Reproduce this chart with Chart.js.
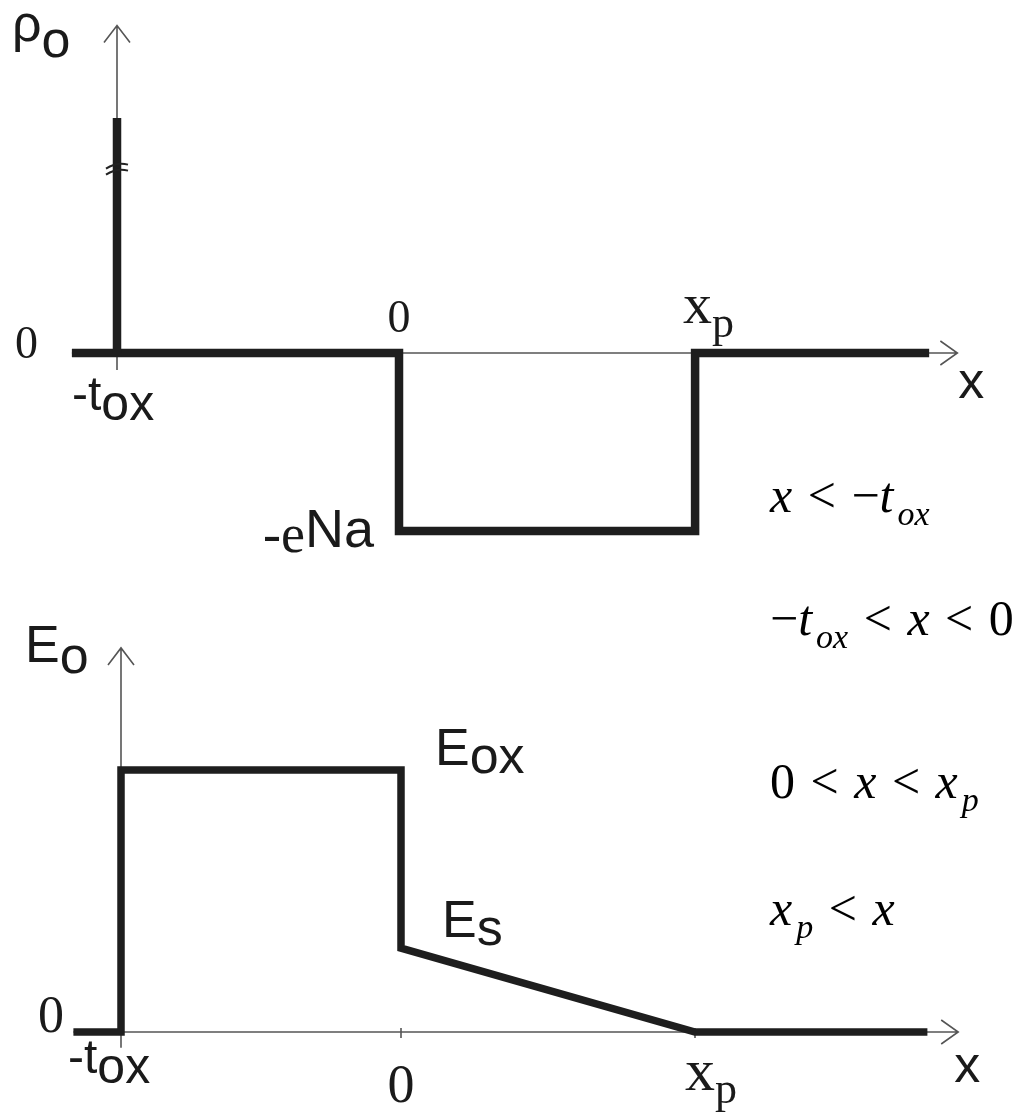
<!DOCTYPE html>
<html lang="en">
<head>
<meta charset="UTF-8">
<title>MOS: charge density and field</title>
<script src="https://cdn.jsdelivr.net/npm/chart.js"></script>
<style>
    body, html {
        margin: 0;
        padding: 0;
        background: #fff;
    }

    .page {
        position: relative;
        width: 1016px;
        height: 1114px;
        overflow: hidden;
    }

    canvas {
        position: absolute;
        left: 0;
    }

    #rhoChart { top: 0; }
    #fieldChart { top: 560px; }

    /* region conditions on the right */
    .cond {
        position: absolute;
        left: 770px;
        font-family: 'Liberation Serif', 'Times New Roman', serif;
        font-size: 50px;
        line-height: 1;
        white-space: nowrap;
        color: #000;
    }

    .cond .op {
        margin: 0 3px;
    }

    .cond sub {
        font-size: 34px;
        font-style: italic;
        vertical-align: baseline;
        position: relative;
        top: 13px;
        margin-left: 4px;
    }
</style>
</head>
<body>
<div class="page">
    <canvas id="rhoChart" width="1016" height="560"></canvas>
    <canvas id="fieldChart" width="1016" height="554"></canvas>

    <div class="cond" style="top:470px"><i>x</i> <span class="op">&lt;</span> &minus;<i>t</i><sub>ox</sub></div>
    <div class="cond" style="top:593px">&minus;<i>t</i><sub>ox</sub> <span class="op">&lt;</span> <i>x</i> <span class="op">&lt;</span> 0</div>
    <div class="cond" style="top:756px">0 <span class="op">&lt;</span> <i>x</i> <span class="op">&lt;</span> <i>x</i><sub>p</sub></div>
    <div class="cond" style="top:883px"><i>x</i><sub>p</sub> <span class="op">&lt;</span> <i>x</i></div>
</div>

<script>
    // normalised positions: -tox = -1, depletion edge at xp
    const tox = 1;
    const xp = 1.05;

    // charge density rho(x): zero in the oxide, -eNa across the depletion layer
    const rhoX = [-1.16, 0, 0, 1.05, 1.05, 1.88];
    const rhoY = [0, 0, -1, -1, 0, 0];

    // gate sheet charge at -tox, drawn as a broken spike
    const spikeX = [-1, -1];
    const spikeY = [0, 1.32];
    const spikeBreak = 1.03;

    // field E(x): constant Eox in the oxide, linear from Es down to 0 at xp
    const fieldX = [-1.17, -1, -1, 0, 0, 1.05, 1.88];
    const fieldY = [0, 0, 1, 1, 0.32, 0, 0];

    const SANS = "'Liberation Sans', Arial, sans-serif";
    const SERIF = "'Liberation Serif', 'Times New Roman', serif";

    function toPoints(xs, ys) {
        return xs.map((x, i) => ({ x: x, y: ys[i] }));
    }

    // value range that puts value 0 at pixel p0 with the given pixels per unit
    function range(p0, perUnit, size, flip) {
        if (flip) return [-(size - p0) / perUnit, p0 / perUnit];
        return [-p0 / perUnit, (size - p0) / perUnit];
    }

    function drawParts(ctx, parts, x, y, align) {
        let w = 0;
        parts.forEach(p => { ctx.font = p.f; w += ctx.measureText(p.t).width; });
        let cx = align === 'center' ? x - w / 2 : x;
        parts.forEach(p => {
            ctx.font = p.f;
            ctx.fillText(p.t, cx, y + (p.dy || 0));
            cx += ctx.measureText(p.t).width;
        });
    }

    // thin axes with open arrow heads, break marks, ticks and labels
    function overlay(cfg) {
        return {
            id: 'overlay',
            beforeDatasetsDraw(chart) {
                const { ctx, scales: { x, y } } = chart;
                const y0 = y.getPixelForValue(0);
                const xa = x.getPixelForValue(-tox);
                const xTip = x.getPixelForValue(cfg.xTip);
                const yTip = y.getPixelForValue(cfg.yTip);
                ctx.save();
                ctx.strokeStyle = '#555';
                ctx.lineWidth = 1.6;
                ctx.beginPath();
                ctx.moveTo(x.getPixelForValue(cfg.xFrom), y0);
                ctx.lineTo(xTip, y0);
                ctx.moveTo(xa, y.getPixelForValue(cfg.yFrom));
                ctx.lineTo(xa, yTip);
                // arrow heads
                ctx.moveTo(xTip - 17, y0 - 12);
                ctx.lineTo(xTip, y0);
                ctx.lineTo(xTip - 17, y0 + 12);
                ctx.moveTo(xa - 13, yTip + 17);
                ctx.lineTo(xa, yTip);
                ctx.lineTo(xa + 13, yTip + 17);
                (cfg.ticks || []).forEach(v => {
                    const px = x.getPixelForValue(v);
                    ctx.moveTo(px, y0 - 4);
                    ctx.lineTo(px, y0 + 6);
                });
                ctx.stroke();
                ctx.restore();
            },
            afterDraw(chart) {
                const { ctx, scales: { x, y } } = chart;
                ctx.save();
                if (cfg.breakAt !== undefined) {
                    const bx = x.getPixelForValue(spikeX[0]);
                    const by = y.getPixelForValue(cfg.breakAt);
                    ctx.strokeStyle = '#222';
                    ctx.lineWidth = 2;
                    ctx.beginPath();
                    [-3, 3].forEach(o => {
                        ctx.moveTo(bx - 11, by + o + 2);
                        ctx.quadraticCurveTo(bx, by + o - 5, bx + 11, by + o - 2);
                    });
                    ctx.stroke();
                }
                ctx.fillStyle = '#1a1a1a';
                ctx.textBaseline = 'alphabetic';
                cfg.labels.forEach(l => {
                    const px = x.getPixelForValue(l.at[0]) + l.dx;
                    const py = y.getPixelForValue(l.at[1]) + l.dy;
                    drawParts(ctx, l.parts, px, py, l.align);
                });
                ctx.restore();
            }
        };
    }

    function makeChart(id, datasets, xr, yr, cfg) {
        return new Chart(document.getElementById(id), {
            type: 'scatter',
            data: { datasets: datasets },
            options: {
                responsive: false,
                animation: false,
                events: [],
                layout: { padding: 0 },
                scales: {
                    x: { type: 'linear', min: xr[0], max: xr[1], display: false },
                    y: { type: 'linear', min: yr[0], max: yr[1], display: false }
                },
                plugins: { legend: { display: false }, tooltip: { enabled: false } }
            },
            plugins: [overlay(cfg)]
        });
    }

    function profile(xs, ys, width) {
        return {
            data: toPoints(xs, ys),
            showLine: true,
            borderColor: '#1e1e1e',
            borderWidth: width,
            borderJoinStyle: 'miter',
            borderCapStyle: 'butt',
            pointRadius: 0,
            tension: 0,
            clip: false
        };
    }

    // charge density
    makeChart('rhoChart',
        [profile(spikeX, spikeY, 8.5), profile(rhoX, rhoY, 8.5)],
        range(399, 282, 1016), range(353, 178, 560, true),
        {
            xFrom: -1.16, xTip: 1.98, yFrom: -0.095, yTip: 1.84,
            breakAt: spikeBreak,
            labels: [
                { at: [-1, 0], dx: -105, dy: -312, parts: [
                    { t: 'ρ', f: '52px ' + SANS }, { t: 'o', f: '52px ' + SANS, dy: 16 }] },
                { at: [-1, 0], dx: -102, dy: 5, parts: [{ t: '0', f: '46px ' + SERIF }] },
                { at: [-1, 0], dx: -45, dy: 57, parts: [
                    { t: '-t', f: '48px ' + SANS }, { t: 'ox', f: '50px ' + SANS, dy: 10 }] },
                { at: [0, 0], dx: 0, dy: -21, align: 'center', parts: [{ t: '0', f: '46px ' + SERIF }] },
                { at: [xp, 0], dx: -12, dy: -30, parts: [
                    { t: 'x', f: '58px ' + SERIF }, { t: 'p', f: '44px ' + SERIF, dy: 14 }] },
                { at: [1.98, 0], dx: 1, dy: 45, parts: [{ t: 'x', f: '52px ' + SANS }] },
                { at: [0, -1], dx: -136, dy: 21, parts: [
                    { t: '-e', f: '54px ' + SERIF }, { t: 'Na', f: '54px ' + SANS, dy: -5 }] }
            ]
        });

    // electric field
    makeChart('fieldChart',
        [profile(fieldX, fieldY, 7.5)],
        range(401, 280, 1016), range(472, 262, 554, true),
        {
            xFrom: -1.17, xTip: 1.99, yFrom: -0.06, yTip: 1.466,
            ticks: [0, xp],
            labels: [
                { at: [-1, 0], dx: -96, dy: -370, parts: [
                    { t: 'E', f: '52px ' + SANS }, { t: 'o', f: '52px ' + SANS, dy: 11 }] },
                { at: [-1, 0], dx: -83, dy: 0, parts: [{ t: '0', f: '52px ' + SERIF }] },
                { at: [-1, 0], dx: -53, dy: 41, parts: [
                    { t: '-t', f: '48px ' + SANS }, { t: 'ox', f: '50px ' + SANS, dy: 10 }] },
                { at: [0, 0], dx: 0, dy: 70, align: 'center', parts: [{ t: '0', f: '54px ' + SERIF }] },
                { at: [xp, 0], dx: -10, dy: 58, parts: [
                    { t: 'x', f: '60px ' + SERIF }, { t: 'p', f: '44px ' + SERIF, dy: 13 }] },
                { at: [1.99, 0], dx: -4, dy: 50, parts: [{ t: 'x', f: '52px ' + SANS }] },
                { at: [0, fieldY[2]], dx: 34, dy: -5, parts: [
                    { t: 'E', f: '52px ' + SANS }, { t: 'ox', f: '52px ' + SANS, dy: 8 }] },
                { at: [0, fieldY[4]], dx: 41, dy: -11, parts: [
                    { t: 'E', f: '52px ' + SANS }, { t: 's', f: '52px ' + SANS, dy: 8 }] }
            ]
        });
</script>
</body>
</html>
